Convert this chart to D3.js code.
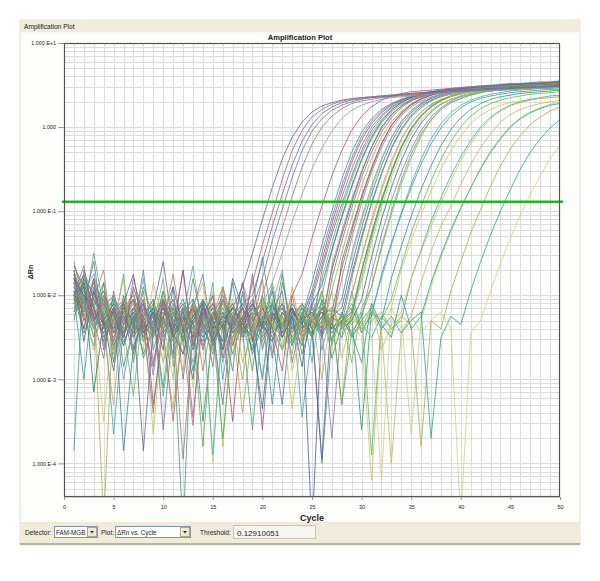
<!DOCTYPE html>
<html>
<head>
<meta charset="utf-8">
<script src="https://cdn.jsdelivr.net/npm/d3@7"></script>
<style>
  body { margin: 0; background: #fff; }
  svg text { font-family: "Liberation Sans", Arial, sans-serif; fill: #222; }
</style>
</head>
<body>
<div id="amp"></div>
<script>

// log10(dRn) * 100, cycles 1..50
var earlyCurves = [
    [-180,-200,-215,-235,-220,-260,-225,-385,-240,-215,-245,-270,-230,-210,-255,-235,-215,-190,-150,-110,-72,-38,-12,6,18,25,29,32,34,35,36,37,38,39,40,41,42,42,43,44,44,45,46,46,47,47,48,48,49,50],
    [-165,-190,-230,-205,-245,-215,-200,-235,-340,-225,-205,-240,-215,-260,-230,-205,-225,-240,-185,-140,-102,-62,-28,-4,12,21,27,31,33,35,36,37,38,39,40,41,41,42,43,43,44,45,45,46,46,47,47,48,48,49],
    [-200,-175,-215,-250,-230,-210,-265,-225,-205,-360,-235,-220,-250,-215,-240,-330,-225,-210,-200,-160,-118,-80,-45,-17,3,16,24,29,32,34,35,36,37,38,39,40,41,42,42,43,44,44,45,46,46,47,47,48,48,49],
    [-190,-210,-160,-240,-215,-255,-230,-210,-245,-225,-270,-215,-235,-205,-260,-220,-245,-230,-215,-180,-135,-98,-60,-28,-5,10,20,26,30,33,35,36,37,38,39,40,41,41,42,43,43,44,45,45,46,46,47,47,48,48],
    [-170,-220,-200,-225,-260,-235,-215,-250,-230,-205,-235,-395,-245,-225,-210,-240,-260,-225,-235,-200,-160,-120,-82,-48,-20,0,13,22,28,31,33,35,36,37,38,39,40,41,42,42,43,44,44,45,45,46,46,47,47,48],
    [-185,-205,-240,-215,-200,-230,-250,-220,-235,-255,-210,-230,-280,-240,-220,-205,-235,-250,-225,-210,-185,-150,-112,-80,-50,-25,-5,10,20,26,30,33,35,36,37,38,39,40,41,41,42,43,43,44,44,45,45,46,46,47]
];

var mainCurves = [
    [-385,-170,-205,-230,-210,-245,-220,-270,-235,-215,-250,-480,-205,-240,-260,-230,-215,-250,-225,-240,-210,-235,-260,-225,-185,-140,-100,-62,-30,-6,10,21,28,33,36,38,40,41,42,43,44,45,46,47,48,49,49,50,51,51],
    [-210,-185,-225,-200,-255,-215,-235,-205,-330,-240,-220,-245,-210,-265,-225,-200,-240,-215,-235,-360,-220,-245,-215,-235,-200,-158,-115,-76,-42,-15,4,17,26,32,36,39,41,42,43,44,45,46,47,48,49,49,50,51,51,52],
    [-175,-215,-195,-240,-220,-205,-250,-230,-215,-240,-350,-235,-220,-210,-245,-225,-270,-230,-210,-240,-225,-250,-220,-235,-245,-170,-128,-92,-58,-28,-4,12,23,30,35,38,40,42,43,44,45,46,47,47,48,49,49,50,50,51],
    [-200,-220,-150,-215,-235,-260,-220,-240,-210,-230,-255,-215,-240,-380,-230,-210,-235,-250,-225,-205,-240,-265,-230,-210,-225,-200,-148,-108,-72,-40,-14,5,18,27,33,37,40,42,44,45,46,47,48,49,50,50,51,52,52,53],
    [-185,-200,-230,-210,-245,-225,-270,-215,-235,-205,-240,-220,-250,-230,-215,-265,-225,-240,-210,-235,-255,-220,-240,-225,-480,-230,-170,-128,-90,-54,-24,0,15,25,32,36,39,41,43,44,45,46,47,48,49,49,50,51,51,52],
    [-165,-195,-210,-470,-215,-235,-205,-245,-225,-280,-230,-210,-240,-220,-250,-215,-235,-340,-240,-220,-210,-245,-230,-260,-225,-240,-195,-150,-108,-70,-38,-12,6,19,28,34,38,41,43,44,45,46,47,48,48,49,50,50,51,51],
    [-220,-180,-200,-225,-205,-385,-260,-230,-215,-245,-225,-205,-235,-255,-220,-240,-215,-230,-265,-225,-210,-240,-220,-235,-250,-215,-220,-168,-125,-84,-50,-20,2,16,26,33,38,41,43,45,46,47,48,49,50,51,51,52,53,53],
    [-195,-215,-185,-230,-250,-220,-235,-210,-240,-225,-205,-255,-355,-215,-245,-225,-210,-235,-220,-250,-230,-210,-245,-225,-240,-215,-235,-180,-132,-90,-54,-24,-2,14,24,31,36,39,41,43,44,45,46,47,48,48,49,50,50,51],
    [-175,-205,-225,-195,-230,-210,-245,-225,-205,-240,-220,-260,-215,-235,-210,-380,-230,-215,-240,-225,-205,-235,-255,-220,-240,-225,-230,-205,-155,-112,-74,-40,-13,6,19,28,34,38,41,43,44,45,46,47,48,49,49,50,51,51],
    [-210,-190,-240,-215,-200,-235,-220,-250,-230,-210,-245,-225,-265,-220,-240,-205,-230,-250,-215,-235,-220,-245,-225,-210,-240,-395,-215,-225,-175,-130,-90,-55,-25,-2,14,25,32,37,40,43,45,46,47,48,49,50,51,51,52,53],
    [-190,-225,-205,-220,-240,-215,-230,-255,-220,-235,-210,-240,-225,-205,-230,-260,-225,-240,-360,-230,-245,-220,-235,-215,-230,-250,-225,-235,-180,-134,-92,-56,-26,-4,12,23,31,36,39,42,44,45,46,47,48,48,49,50,50,51],
    [-200,-175,-220,-245,-330,-205,-235,-215,-250,-230,-220,-240,-210,-235,-225,-245,-215,-230,-255,-220,-240,-215,-230,-245,-220,-235,-225,-240,-200,-154,-110,-72,-40,-14,5,18,27,33,37,40,42,43,44,45,46,47,47,48,49,49],
    [-185,-205,-230,-210,-225,-250,-215,-235,-220,-205,-240,-230,-215,-250,-235,-220,-240,-225,-210,-235,-250,-330,-215,-240,-230,-220,-245,-230,-220,-170,-126,-86,-52,-23,-1,14,25,32,37,41,43,45,46,47,48,49,50,51,51,52],
    [-170,-210,-195,-235,-215,-240,-225,-205,-245,-220,-235,-215,-250,-230,-210,-240,-225,-245,-220,-210,-235,-225,-250,-230,-215,-240,-225,-235,-220,-180,-132,-90,-54,-24,-2,13,24,31,36,39,42,43,45,46,47,47,48,49,49,50],
    [-205,-185,-315,-230,-210,-225,-245,-220,-235,-215,-230,-250,-225,-210,-240,-230,-215,-235,-250,-335,-220,-240,-210,-230,-245,-225,-215,-240,-230,-205,-155,-110,-72,-40,-14,5,18,27,33,37,40,42,44,45,46,47,48,49,49,50],
    [-195,-220,-180,-225,-240,-215,-230,-210,-235,-250,-225,-210,-235,-220,-245,-225,-210,-240,-230,-215,-235,-250,-225,-215,-230,-240,-370,-230,-245,-225,-175,-128,-88,-54,-26,-4,12,23,31,36,39,42,44,45,46,47,48,48,49,50],
    [-215,-195,-175,-220,-205,-230,-215,-245,-220,-320,-230,-215,-240,-225,-390,-235,-220,-245,-260,-230,-215,-240,-225,-250,-230,-180,-138,-98,-62,-32,-8,9,21,29,35,39,42,44,46,47,48,49,50,51,52,52,53,54,54,55],
    [-180,-230,-210,-195,-235,-220,-205,-240,-225,-210,-250,-230,-215,-245,-220,-235,-350,-225,-205,-240,-220,-235,-215,-245,-230,-220,-240,-160,-120,-82,-48,-20,2,17,27,34,38,41,43,45,46,47,48,49,50,50,51,52,52,53],
    [-190,-210,-240,-215,-230,-205,-240,-225,-365,-230,-215,-235,-220,-245,-210,-230,-250,-220,-235,-215,-240,-230,-335,-245,-225,-235,-215,-240,-225,-185,-138,-96,-60,-30,-7,9,20,28,33,37,40,42,43,44,45,46,46,47,48,48],
    [-200,-185,-225,-245,-220,-210,-235,-250,-215,-160,-240,-220,-205,-235,-250,-225,-240,-210,-230,-245,-225,-215,-240,-230,-220,-245,-225,-215,-165,-120,-80,-46,-18,3,17,27,34,39,42,44,46,47,48,49,50,51,52,52,53,54],
    [-225,-200,-185,-210,-230,-215,-240,-225,-210,-235,-220,-245,-230,-215,-240,-370,-250,-230,-215,-235,-225,-210,-240,-225,-250,-230,-220,-330,-245,-225,-190,-142,-100,-63,-32,-8,9,21,29,34,38,41,43,44,45,46,47,48,48,49],
    [-180,-205,-220,-240,-215,-230,-210,-245,-225,-240,-215,-230,-345,-225,-210,-240,-230,-215,-245,-225,-235,-210,-240,-225,-195,-150,-108,-70,-37,-11,7,19,27,33,37,40,42,43,44,45,46,47,48,49,49,50,51,51,52,52],
    [-160,-210,-250,-185,-280,-200,-240,-170,-265,-225,-190,-300,-215,-175,-255,-230,-290,-195,-245,-210,-275,-185,-235,-260,-205,-165,-122,-84,-50,-22,0,14,24,31,36,39,41,43,44,45,46,47,48,49,49,50,51,51,52,53],
    [-200,-165,-230,-275,-195,-250,-180,-225,-295,-205,-240,-170,-260,-215,-285,-190,-235,-250,-175,-265,-220,-195,-280,-230,-210,-250,-180,-136,-96,-60,-30,-6,11,23,31,36,39,42,44,45,46,47,48,49,50,51,51,52,53,53],
    [-175,-220,-190,-260,-215,-300,-235,-180,-250,-205,-275,-225,-165,-245,-200,-280,-240,-185,-225,-300,-210,-170,-255,-230,-195,-265,-220,-205,-150,-108,-70,-38,-12,7,20,29,35,39,42,44,45,46,47,48,49,50,50,51,52,52],
    [-185,-240,-205,-170,-265,-220,-250,-195,-280,-230,-175,-245,-210,-290,-225,-190,-260,-215,-240,-180,-270,-235,-200,-255,-225,-240,-165,-124,-86,-52,-24,-2,14,25,33,38,41,43,45,46,47,48,49,50,51,51,52,53,53,54],
    [-230,-180,-215,-255,-200,-285,-240,-190,-225,-310,-215,-255,-180,-235,-270,-205,-245,-225,-290,-200,-240,-175,-260,-220,-250,-205,-275,-235,-225,-172,-128,-88,-54,-25,-3,13,24,32,37,40,43,45,46,47,48,49,49,50,51,51],
    [-190,-215,-265,-205,-235,-180,-275,-220,-250,-200,-240,-290,-215,-185,-260,-230,-205,-280,-245,-210,-235,-265,-190,-250,-225,-300,-215,-240,-200,-155,-114,-76,-43,-15,5,18,27,33,37,40,42,44,45,46,47,47,48,49,49,50],
    [-170,-255,-195,-230,-290,-210,-175,-245,-220,-265,-190,-240,-300,-205,-230,-255,-180,-215,-270,-235,-195,-250,-225,-285,-210,-188,-146,-106,-70,-38,-12,7,20,29,35,39,42,44,45,46,47,48,49,50,51,51,52,52,53,54],
    [-210,-175,-240,-200,-270,-225,-195,-255,-235,-180,-285,-215,-245,-205,-265,-190,-230,-300,-220,-250,-185,-240,-270,-210,-235,-195,-260,-225,-280,-215,-190,-145,-104,-68,-37,-11,8,21,29,34,38,41,43,44,45,46,47,48,48,49],
    [-195,-240,-180,-265,-215,-250,-190,-230,-285,-205,-245,-170,-260,-225,-200,-275,-235,-185,-255,-215,-240,-290,-200,-175,-132,-94,-58,-28,-4,13,24,32,37,40,42,43,44,45,46,47,48,49,49,50,51,51,52,52,53,53]
];

var lateCurves = [
    [-200,-300,-190,-235,-215,-245,-225,-210,-240,-220,-235,-255,-225,-240,-215,-230,-250,-225,-210,-155,-230,-215,-245,-225,-235,-400,-250,-230,-215,-240,-225,-175,-138,-104,-72,-44,-20,-1,13,23,30,34,37,39,41,42,43,44,45,45],
    [-185,-210,-230,-215,-240,-220,-205,-235,-250,-225,-215,-240,-230,-350,-245,-225,-235,-215,-240,-255,-225,-235,-215,-240,-225,-210,-235,-250,-225,-360,-220,-230,-180,-142,-106,-74,-46,-22,-3,11,21,28,33,36,38,40,41,42,43,44],
    [-210,-190,-225,-350,-215,-230,-250,-220,-235,-210,-245,-225,-240,-215,-230,-255,-220,-240,-225,-210,-235,-250,-225,-240,-215,-230,-245,-220,-235,-250,-420,-240,-215,-170,-135,-104,-76,-50,-28,-10,4,14,21,26,29,31,33,34,35,36],
    [-195,-215,-240,-220,-365,-235,-225,-245,-215,-230,-250,-225,-210,-240,-230,-215,-245,-225,-240,-220,-250,-230,-215,-345,-245,-225,-240,-230,-210,-235,-250,-225,-240,-230,-180,-146,-112,-84,-58,-35,-16,0,12,20,26,30,33,35,37,38],
    [-220,-195,-210,-235,-250,-225,-215,-240,-230,-255,-335,-235,-215,-245,-225,-240,-210,-235,-250,-230,-215,-240,-225,-245,-230,-215,-240,-225,-250,-235,-220,-240,-400,-245,-225,-185,-148,-118,-94,-68,-44,-24,-8,6,15,21,25,28,30,32],
    [-175,-225,-205,-230,-215,-240,-320,-210,-245,-230,-215,-235,-255,-225,-240,-215,-230,-245,-220,-235,-210,-240,-225,-250,-230,-215,-240,-225,-235,-220,-390,-230,-205,-165,-126,-94,-64,-38,-17,0,13,22,28,32,35,37,39,40,41,42],
    [-200,-230,-215,-245,-225,-210,-240,-220,-235,-250,-225,-240,-215,-230,-400,-220,-235,-255,-225,-240,-215,-230,-245,-225,-240,-220,-235,-250,-225,-240,-215,-230,-245,-225,-365,-230,-190,-155,-125,-98,-72,-48,-28,-12,1,11,18,23,27,30],
    [-190,-210,-235,-215,-240,-225,-250,-230,-215,-240,-225,-210,-235,-250,-225,-240,-215,-230,-245,-225,-330,-220,-235,-250,-230,-215,-240,-225,-250,-230,-215,-240,-225,-245,-230,-220,-370,-250,-225,-235,-195,-160,-128,-100,-74,-50,-30,-14,-1,9],
    [-205,-185,-220,-240,-225,-250,-215,-235,-220,-245,-230,-215,-310,-225,-255,-230,-215,-240,-225,-235,-250,-225,-240,-215,-230,-245,-225,-240,-220,-235,-250,-420,-215,-240,-225,-245,-230,-220,-240,-470,-245,-230,-195,-162,-132,-105,-80,-58,-38,-22],
    [-215,-200,-230,-210,-245,-225,-235,-215,-240,-225,-250,-230,-215,-240,-225,-235,-210,-245,-230,-215,-240,-225,-250,-230,-220,-240,-225,-330,-215,-245,-230,-220,-240,-225,-235,-380,-230,-240,-195,-160,-126,-98,-70,-46,-26,-10,3,12,19,24],
    [-180,-225,-260,-200,-240,-175,-280,-215,-250,-195,-235,-270,-210,-245,-185,-300,-225,-200,-255,-230,-190,-265,-240,-215,-280,-205,-235,-250,-195,-245,-220,-180,-140,-102,-68,-38,-14,4,17,26,32,36,39,41,43,44,45,46,46,47],
    [-215,-190,-250,-225,-280,-200,-240,-265,-185,-230,-300,-210,-255,-235,-195,-270,-220,-245,-180,-260,-230,-205,-290,-240,-215,-250,-195,-275,-225,-240,-210,-265,-235,-220,-180,-148,-118,-90,-64,-40,-20,-3,10,19,25,29,32,34,35,36],
    [-200,-245,-215,-185,-260,-230,-205,-275,-240,-195,-250,-220,-290,-210,-235,-265,-185,-245,-225,-300,-205,-240,-215,-270,-230,-195,-255,-220,-245,-280,-210,-235,-250,-200,-240,-225,-185,-152,-122,-96,-72,-50,-30,-14,0,10,17,22,26,28]
];

var earlyColors = ["#5b6b8c", "#a86a6a", "#7a6a9a", "#6a7aa0", "#9a7a6a", "#8a98b8"];
var mainColors = ["#3a9a8a", "#8a5a9a", "#b06a5a", "#5ab04a", "#4a5aa0", "#a8b040", "#2a8aa0", "#c07070", "#9ac84a", "#6a5aa0", "#3aaa7a",
    "#c8a070", "#4a7ab0", "#8aa84a", "#2a7a6a", "#8a7aaa", "#4ab0b0", "#b05050", "#b8c860", "#5a6aa8", "#4ab060", "#a07090",
    "#5a8a9a", "#9a6aa0", "#6aa0c0", "#b08060", "#50a050", "#c0b050", "#4a6a9a", "#8ab060", "#a05a7a"];
var lateColors = ["#3a9a9a", "#2a9a70", "#c8c870", "#40a8a0", "#b8b860", "#60b860", "#c0d080", "#30a090", "#d0d080", "#a0b050",
    "#40b0a0", "#d0c060", "#30a080"];

var xTicks = [0, 5, 10, 15, 20, 25, 30, 35, 40, 45, 50];
var yTicks = [10, 1, 0.1, 0.01, 0.001, 0.0001];
var yTickLabels = ["1.000 E+1", "1.000", "1.000 E-1", "1.000 E-2", "1.000 E-3", "1.000 E-4"];
var threshold = 0.12910051;

var width = 600,
    height = 581;

var svg = d3.select("#amp")
    .append("svg")
    .attr("width", width)
    .attr("height", height);

// window panel
svg.append("rect").attr("x", 20).attr("y", 20).attr("width", 560).attr("height", 525)
    .attr("fill", "#fdfdfb").attr("stroke", "#e4e1d2");
svg.append("rect").attr("x", 20).attr("y", 20).attr("width", 560).attr("height", 12)
    .attr("fill", "#efecdc");
svg.append("line").attr("x1", 20).attr("x2", 580).attr("y1", 32.5).attr("y2", 32.5)
    .attr("stroke", "#f8f7ef");
svg.append("text").attr("x", 24).attr("y", 29).style("font-size", "6.6px")
    .text("Amplification Plot");

// bottom bar
svg.append("rect").attr("x", 20).attr("y", 522).attr("width", 560).attr("height", 21)
    .attr("fill", "#efecdc");
svg.append("rect").attr("x", 20).attr("y", 543).attr("width", 560).attr("height", 2)
    .attr("fill", "#b8b4a0");

var margin = {left: 64, right: 560, top: 43, bottom: 497};

var x = d3.scaleLinear()
    .domain([0, 50])
    .range([margin.left, margin.right]);

var y = d3.scaleLog()
    .domain([Math.pow(10, -4.4), 10])
    .range([margin.bottom, margin.top]);

svg.append("rect").attr("x", margin.left).attr("y", margin.top)
    .attr("width", margin.right - margin.left).attr("height", margin.bottom - margin.top)
    .attr("fill", "#fff");

// grid
var grid = svg.append("g").attr("stroke", "#dcdcdc").attr("stroke-width", 1);
d3.range(1, 50).forEach(function (c) {
    grid.append("line")
        .attr("x1", Math.round(x(c)) + 0.5).attr("x2", Math.round(x(c)) + 0.5)
        .attr("y1", margin.top).attr("y2", margin.bottom);
});
for (var k = -5; k <= 1; k++) {
    for (var m = 1; m <= 9; m++) {
        var v = m * Math.pow(10, k);
        if (v <= y.domain()[0] || v >= 10) continue;
        grid.append("line")
            .attr("x1", margin.left).attr("x2", margin.right)
            .attr("y1", Math.round(y(v)) + 0.5).attr("y2", Math.round(y(v)) + 0.5);
    }
}

svg.append("clipPath").attr("id", "plotclip")
    .append("rect").attr("x", margin.left).attr("y", margin.top)
    .attr("width", margin.right - margin.left).attr("height", margin.bottom - margin.top);

var line = d3.line()
    .defined(function (d) { return d != null; })
    .x(function (d, i) { return x(i + 1); })
    .y(function (d) { return y(Math.pow(10, d / 100)); });

var curves = svg.append("g").attr("clip-path", "url(#plotclip)");

function drawGroup(data, colors) {
    curves.selectAll(null)
        .data(data)
        .enter()
        .append("path")
        .attr("d", line)
        .attr("fill", "none")
        .attr("stroke", function (d, i) { return colors[i % colors.length]; })
        .attr("stroke-width", 0.9)
        .attr("stroke-opacity", 0.9);
}

drawGroup(lateCurves, lateColors);
drawGroup(mainCurves, mainColors);
drawGroup(earlyCurves, earlyColors);

// threshold
svg.append("line")
    .attr("x1", margin.left - 2).attr("x2", margin.right + 3)
    .attr("y1", y(threshold)).attr("y2", y(threshold))
    .attr("stroke", "#22b422").attr("stroke-width", 2.6);

// frame
svg.append("rect").attr("x", margin.left + 0.5).attr("y", margin.top + 0.5)
    .attr("width", margin.right - margin.left - 1).attr("height", margin.bottom - margin.top - 1)
    .attr("fill", "none").attr("stroke", "#555").attr("stroke-width", 1.2);

// axes
var yAxis = d3.axisLeft(y)
    .tickValues(yTicks)
    .tickSize(6)
    .tickPadding(2)
    .tickFormat(function (d, i) { return yTickLabels[i]; });

var gy = svg.append("g")
    .attr("transform", "translate(" + margin.left + ",0)")
    .call(yAxis);
gy.select(".domain").remove();
gy.selectAll("line").attr("stroke", "#999");
gy.selectAll("text").style("font-size", "5.4px").attr("fill", "#222");

var xAxis = d3.axisBottom(x)
    .tickValues(xTicks)
    .tickSize(3)
    .tickPadding(5);

var gx = svg.append("g")
    .attr("transform", "translate(0," + margin.bottom + ")")
    .call(xAxis);
gx.select(".domain").remove();
gx.selectAll("line").attr("stroke", "#999");
gx.selectAll("text").style("font-size", "5.4px").attr("fill", "#222");

// titles
svg.append("text").attr("x", 300).attr("y", 40).attr("text-anchor", "middle")
    .style("font-size", "7.6px").style("font-weight", "bold")
    .text("Amplification Plot");
svg.append("text").attr("x", (margin.left + margin.right) / 2).attr("y", 521).attr("text-anchor", "middle")
    .style("font-size", "9px").style("font-weight", "bold")
    .text("Cycle");
svg.append("text").attr("transform", "translate(33,272) rotate(-90)").attr("text-anchor", "middle")
    .style("font-size", "7px").style("font-weight", "bold")
    .text("ΔRn");

// controls
function combo(x0, w, label) {
    svg.append("rect").attr("x", x0 + 0.5).attr("y", 526.5).attr("width", w).attr("height", 11)
        .attr("fill", "#fff").attr("stroke", "#8a94a8");
    svg.append("text").attr("x", x0 + 2).attr("y", 534.5).style("font-size", "6.3px").text(label);
    var bx = x0 + w - 10;
    svg.append("rect").attr("x", bx + 0.5).attr("y", 527.5).attr("width", 9).attr("height", 9)
        .attr("fill", "#ece9d8").attr("stroke", "#aaa690");
    svg.append("path").attr("d", "M" + (bx + 3) + ",531 l4,0 l-2,2.5 z").attr("fill", "#333");
}

svg.append("text").attr("x", 25).attr("y", 535).style("font-size", "6.5px").text("Detector:");
combo(54, 43, "FAM-MGB");
svg.append("text").attr("x", 101).attr("y", 535).style("font-size", "6.5px").text("Plot:");
combo(115, 75, "ΔRn vs. Cycle");
svg.append("text").attr("x", 200).attr("y", 535).style("font-size", "6.5px").text("Threshold:");
svg.append("rect").attr("x", 233.5).attr("y", 525.5).attr("width", 82).attr("height", 13)
    .attr("fill", "#f7f6ee").attr("stroke", "#c9c5b0");
svg.append("text").attr("x", 237).attr("y", 535.5).style("font-size", "8px").text(threshold.toFixed(8));

</script>
</body>
</html>
